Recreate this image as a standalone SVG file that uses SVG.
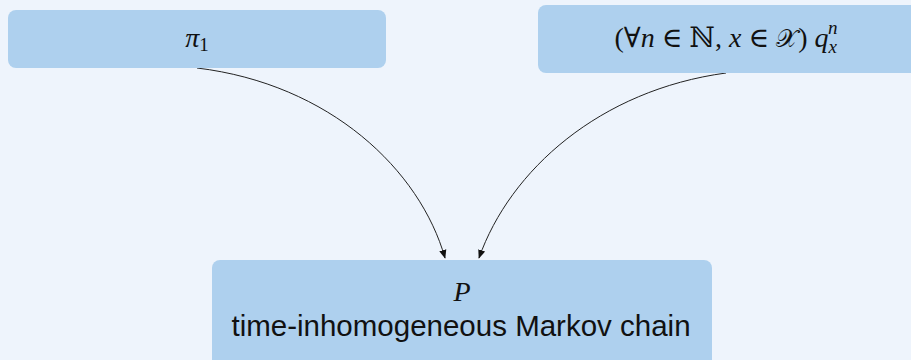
<svg xmlns="http://www.w3.org/2000/svg" width="911" height="360" viewBox="0 0 911 360">
<defs>
<style>
.box{fill:#aed0ee;}
.m{font-family:"Liberation Serif","DejaVu Serif",serif;font-size:28px;fill:#111;}
.i{font-style:italic;}
.s{font-family:"Liberation Sans",Arial,sans-serif;font-size:29.5px;fill:#111;}
.c{fill:none;stroke:#222;stroke-width:1;}
</style>
<marker id="ah" viewBox="0 0 10 10" refX="9" refY="5" markerWidth="9" markerHeight="9" markerUnits="userSpaceOnUse" orient="auto">
<path d="M0,1 L10,5 L0,9 z" fill="#111"/>
</marker>
</defs>
<rect width="911" height="360" fill="#eef4fc"/>
<g id="connectors">
<path class="c" d="M197,68 C330,84 420,170 445,258" marker-end="url(#ah)"/>
<path class="c" d="M726,73 C600,90 510,170 479,258" marker-end="url(#ah)"/>
</g>
<g id="pi1">
<rect class="box" x="8" y="10" width="378" height="58" rx="8"/>
<text class="m" x="197" y="47" text-anchor="middle"><tspan class="i">π</tspan><tspan font-size="19" dy="4">1</tspan></text>
</g>
<g id="q">
<rect class="box" x="538" y="5" width="385" height="68" rx="8"/>
<text class="m" x="726" y="47" text-anchor="middle" font-size="29">(∀<tspan class="i">n</tspan> ∈ ℕ, <tspan class="i">x</tspan> ∈ <tspan font-family="DejaVu Sans" font-size="25">𝒳</tspan>) <tspan class="i">q</tspan><tspan class="i" font-size="19" dy="6">x</tspan><tspan class="i" font-size="19" dx="-9" dy="-19">n</tspan></text>
</g>
<g id="P">
<rect class="box" x="212" y="260" width="500" height="110" rx="8"/>
<text class="m i" x="462" y="301" text-anchor="middle">P</text>
<text class="s" x="461" y="336" text-anchor="middle">time-inhomogeneous Markov chain</text>
</g>
</svg>
